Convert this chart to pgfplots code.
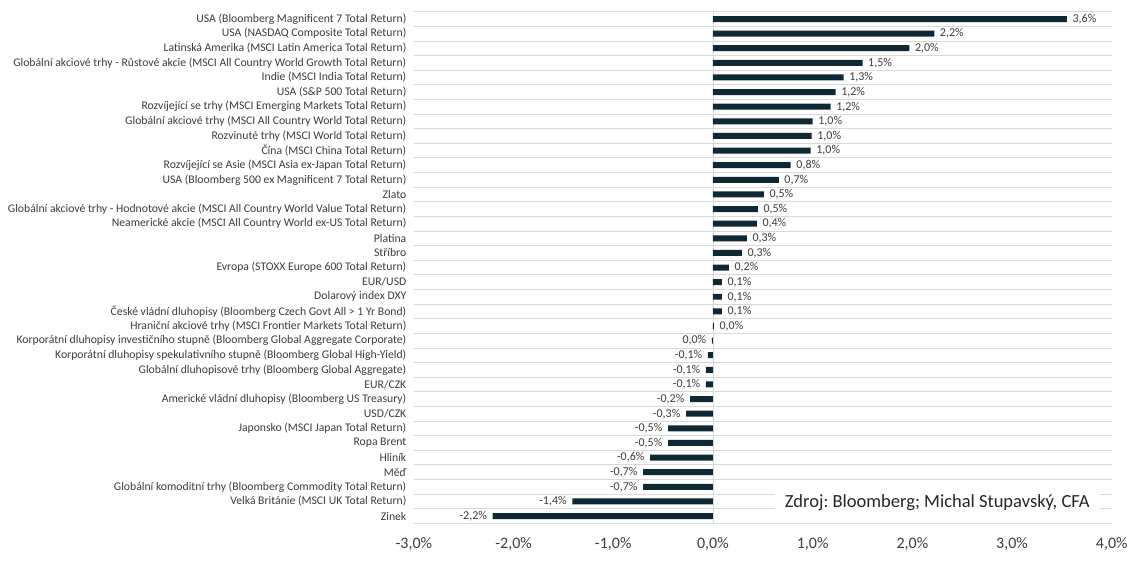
\documentclass[border=0pt]{standalone}
\usepackage{pgfplots}
\usepackage{pgfplotstable}
\usepackage{fontspec}
\setmainfont{Carlito}
\pgfplotsset{compat=1.18}
\frenchspacing

\definecolor{barcol}{RGB}{14,40,52}
\definecolor{txt}{RGB}{60,60,60}
\definecolor{gridc}{RGB}{217,217,217}
\definecolor{zeroc}{RGB}{205,218,228}

% kladne vynosy (index radku shora, hodnota, popisek)
\pgfplotstableread{
idx val lab
0 3.55 3,6
1 2.22 2,2
2 1.97 2,0
3 1.50 1,5
4 1.31 1,3
5 1.23 1,2
6 1.18 1,2
7 1.00 1,0
8 0.99 1,0
9 0.98 1,0
10 0.78 0,8
11 0.66 0,7
12 0.51 0,5
13 0.45 0,5
14 0.44 0,4
15 0.34 0,3
16 0.29 0,3
17 0.16 0,2
18 0.09 0,1
19 0.09 0,1
20 0.09 0,1
21 0.01 0,0
}\posdata

% zaporne vynosy
\pgfplotstableread{
idx val lab
22 -0.01 0,0
23 -0.05 -0,1
24 -0.07 -0,1
25 -0.07 -0,1
26 -0.23 -0,2
27 -0.27 -0,3
28 -0.45 -0,5
29 -0.45 -0,5
30 -0.63 -0,6
31 -0.70 -0,7
32 -0.70 -0,7
33 -1.41 -1,4
34 -2.21 -2,2
}\negdata

\begin{document}
\begin{tikzpicture}
\begin{axis}[
  scale only axis,
  width=698pt, height=511.7pt,
  xbar, bar width=6pt, bar shift=0pt,
  xmin=-3, xmax=4, ymin=-0.5, ymax=34.5,
  y dir=reverse,
  clip=false,
  axis line style={draw=none},
  major tick length=0pt, minor tick length=0pt,
  xtick={-3,-2,-1,0,1,2,3,4},
  xticklabels={{-3,0\%},{-2,0\%},{-1,0\%},{0,0\%},{1,0\%},{2,0\%},{3,0\%},{4,0\%}},
  extra x ticks={0}, extra x tick labels={},
  extra x tick style={grid=major, major grid style={zeroc, line width=0.8pt}},
  ytick={0,...,34},
  minor ytick={-0.5,0.5,...,34.5},
  yminorgrids,
  minor grid style={gridc, line width=0.8pt},
  yticklabels={
    {USA (Bloomberg Magnificent 7 Total Return)},
    {USA (NASDAQ Composite Total Return)},
    {Latinská Amerika (MSCI Latin America Total Return)},
    {Globální akciové trhy - Růstové akcie (MSCI All Country World Growth Total Return)},
    {Indie (MSCI India Total Return)},
    {USA (S\&P 500 Total Return)},
    {Rozvíjející se trhy (MSCI Emerging Markets Total Return)},
    {Globální akciové trhy (MSCI All Country World Total Return)},
    {Rozvinuté trhy (MSCI World Total Return)},
    {Čína (MSCI China Total Return)},
    {Rozvíjející se Asie (MSCI Asia ex-Japan Total Return)},
    {USA (Bloomberg 500 ex Magnificent 7 Total Return)},
    {Zlato},
    {Globální akciové trhy - Hodnotové akcie (MSCI All Country World Value Total Return)},
    {Neamerické akcie (MSCI All Country World ex-US Total Return)},
    {Platina},
    {Stříbro},
    {Evropa (STOXX Europe 600 Total Return)},
    {EUR/USD},
    {Dolarový index DXY},
    {České vládní dluhopisy (Bloomberg Czech Govt All > 1 Yr Bond)},
    {Hraniční akciové trhy (MSCI Frontier Markets Total Return)},
    {Korporátní dluhopisy investičního stupně (Bloomberg Global Aggregate Corporate)},
    {Korporátní dluhopisy spekulativního stupně (Bloomberg Global High-Yield)},
    {Globální dluhopisové trhy (Bloomberg Global Aggregate)},
    {EUR/CZK},
    {Americké vládní dluhopisy (Bloomberg US Treasury)},
    {USD/CZK},
    {Japonsko (MSCI Japan Total Return)},
    {Ropa Brent},
    {Hliník},
    {Měď},
    {Globální komoditní trhy (Bloomberg Commodity Total Return)},
    {Velká Británie (MSCI UK Total Return)},
    {Zinek}},
  tick label style={text=txt},
  yticklabel style={font=\fontsize{11.7}{13}\selectfont, xshift=-4pt},
  xticklabel style={font=\fontsize{16}{18}\selectfont, yshift=-11pt},
  point meta=explicit symbolic,
  nodes near coords={\pgfplotspointmeta\%},
  nodes near coords style={font=\fontsize{12}{13}\selectfont, text=txt, inner sep=1.5pt},
]
\addplot[fill=barcol, draw=none,
  every node near coord/.append style={anchor=west, xshift=4pt}]
  table[x=val, y=idx, meta=lab] {\posdata};
\addplot[fill=barcol, draw=none,
  every node near coord/.append style={anchor=east, xshift=-4pt}]
  table[x=val, y=idx, meta=lab] {\negdata};

\node[fill=white, inner xsep=10pt, inner ysep=5pt, text=black!85,
  font=\fontsize{18.5}{20}\selectfont] at (axis cs:2.25,33.1)
  {Zdroj: Bloomberg; Michal Stupavský, CFA};

\path (axis cs:-7.151,-1.30) rectangle (axis cs:4.213,37.07);
\end{axis}
\end{tikzpicture}
\end{document}
